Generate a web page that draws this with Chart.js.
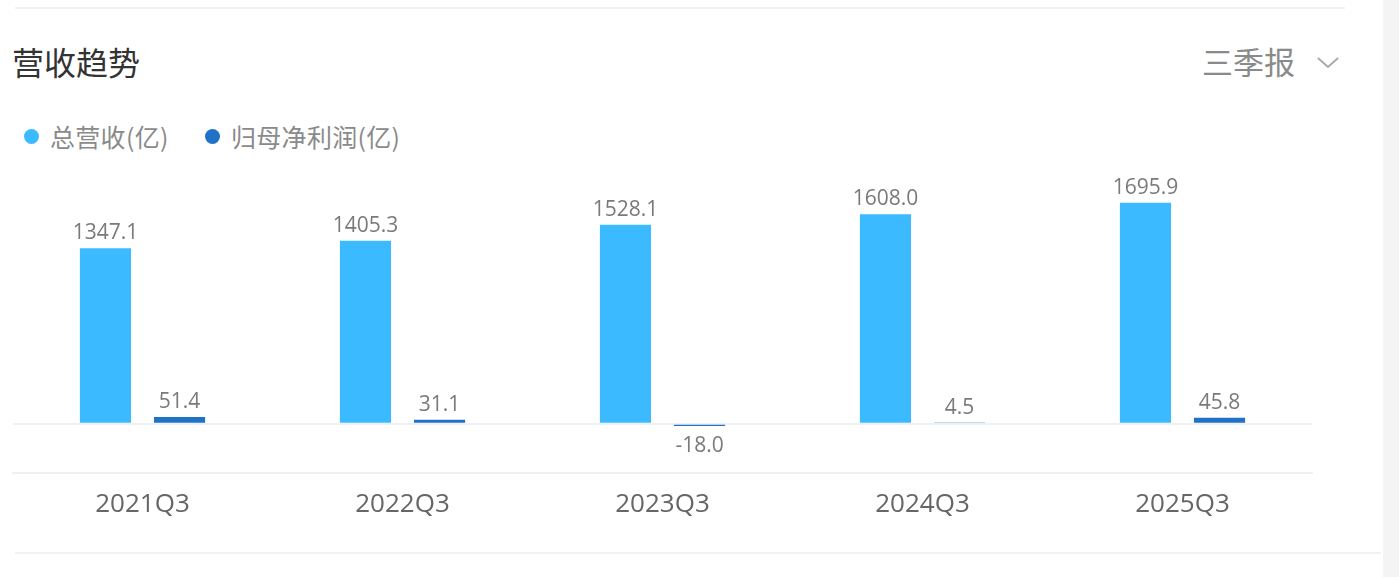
<!DOCTYPE html>
<html>
<head>
<meta charset="utf-8">
<script src="https://cdn.jsdelivr.net/npm/chart.js@4.4.1/dist/chart.umd.min.js"></script>
<style>
    html, body { margin: 0; padding: 0; background: #fff; }
    body { width: 1399px; height: 577px; position: relative; overflow: hidden; font-family: "Noto Sans CJK SC", sans-serif; }
    .side-strip { position: absolute; left: 1383px; top: 0; width: 16px; height: 577px; background: #f4f4f5; }
    .rule { position: absolute; height: 2px; background: #f1f2f4; }
    .title { position: absolute; left: 12px; top: 39px; font-size: 32px; color: #333; line-height: 44px; }
    .period { position: absolute; left: 1202px; top: 40px; font-size: 31px; color: #8a8a8a; line-height: 42px; }
    .period svg { position: absolute; left: 114px; top: 16px; }
    .legend { position: absolute; left: 0; top: 118px; height: 36px; }
    .legend-item { position: absolute; top: 0; height: 36px; line-height: 36px; font-size: 25px; color: #8a8a8a; white-space: nowrap; }
    .legend-item i { position: absolute; left: 0; top: 11px; width: 15px; height: 15px; border-radius: 50%; }
    .legend-item span { position: absolute; left: 26px; top: 0; letter-spacing: 0.3px; }
    #wrap { position: absolute; left: 0; top: 150px; width: 1325px; height: 386px; }
</style>
</head>
<body>
<div class="side-strip"></div>
<div class="rule" style="left:15px; top:7px; width:1330px;"></div>
<div class="rule" style="left:15px; top:552px; width:1366px;"></div>

<div class="title">营收趋势</div>
<div class="period">三季报<svg width="24" height="14" viewBox="0 0 24 14"><polyline points="2,2 12,11 22,2" fill="none" stroke="#aaa" stroke-width="2"/></svg></div>

<div class="legend" id="legend"></div>

<div id="wrap"><canvas id="trendChart"></canvas></div>

<script>
// 报告期
const periods = ['2021Q3', '2022Q3', '2023Q3', '2024Q3', '2025Q3'];
// 总营收(亿)
const revenue = [1347.1, 1405.3, 1528.1, 1608.0, 1695.9];
// 归母净利润(亿)
const netProfit = [51.4, 31.1, -18.0, 4.5, 45.8];

const seriesNames = ['总营收(亿)', '归母净利润(亿)'];
const seriesColors = ['#3cbaff', '#1f72c6'];
const legendX = [24, 205];

// y axis range (no tick labels shown, only the zero line)
const yMin = -377;
const yMax = 2025;

// html legend, built from the series arrays
const legendEl = document.getElementById('legend');
seriesNames.forEach((name, i) => {
    const item = document.createElement('div');
    item.className = 'legend-item';
    item.style.left = legendX[i] + 'px';
    item.innerHTML = `<i style="background:${seriesColors[i]}"></i><span>${name}</span>`;
    legendEl.appendChild(item);
});

// value labels above / below each bar
const valueLabels = {
    id: 'valueLabels',
    afterDatasetsDraw(chart) {
        const ctx = chart.ctx;
        ctx.save();
        ctx.font = '21px "Open Sans", "Noto Sans CJK SC", sans-serif';
        ctx.fillStyle = '#7a7a7a';
        ctx.textAlign = 'center';
        chart.data.datasets.forEach((ds, di) => {
            const meta = chart.getDatasetMeta(di);
            meta.data.forEach((bar, i) => {
                const v = ds.data[i];
                const txt = v.toFixed(1);
                if (v >= 0) {
                    ctx.textBaseline = 'alphabetic';
                    ctx.fillText(txt, bar.x, bar.y - 9);
                } else {
                    ctx.textBaseline = 'top';
                    ctx.fillText(txt, bar.x, bar.y + 9);
                }
            });
        });
        ctx.restore();
    }
};

const ctx = document.getElementById('trendChart').getContext('2d');
new Chart(ctx, {
    type: 'bar',
    data: {
        labels: periods,
        datasets: [{
            label: seriesNames[0],
            data: revenue,
            backgroundColor: seriesColors[0],
            categoryPercentage: 0.57,
            barPercentage: 0.69
        }, {
            label: seriesNames[1],
            data: netProfit,
            backgroundColor: seriesColors[1],
            categoryPercentage: 0.57,
            barPercentage: 0.69
        }]
    },
    options: {
        responsive: true,
        maintainAspectRatio: false,
        animation: false,
        layout: {
            padding: { left: 12.5, right: 12.5, top: 10, bottom: 0 }
        },
        scales: {
            x: {
                grid: { display: false, drawTicks: false },
                border: { display: true, color: '#eef0f2', width: 2 },
                ticks: {
                    color: '#666',
                    padding: 16,
                    font: { size: 26, family: '"Open Sans", "Noto Sans CJK SC", sans-serif' }
                }
            },
            y: {
                min: yMin,
                max: yMax,
                afterBuildTicks: (scale) => { scale.ticks = [{ value: 0 }]; },
                ticks: { display: false },
                border: { display: false },
                grid: {
                    drawTicks: false,
                    lineWidth: 2,
                    color: (c) => (c.tick && c.tick.value === 0) ? '#eef0f3' : 'rgba(0,0,0,0)'
                }
            }
        },
        plugins: {
            legend: { display: false },
            tooltip: { enabled: false }
        }
    },
    plugins: [valueLabels]
});
</script>
</body>
</html>
